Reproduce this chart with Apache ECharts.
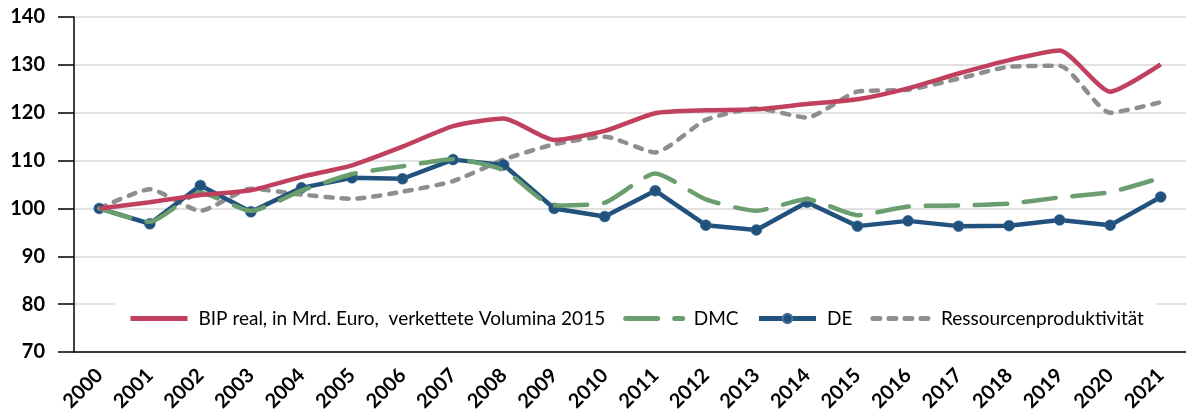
<!DOCTYPE html>
<html>
<head>
<meta charset="utf-8">
<script src="https://cdn.jsdelivr.net/npm/echarts@6/dist/echarts.min.js"></script>
<style>
  html, body { margin: 0; padding: 0; background: #fff; }
  #chart { width: 1186px; height: 417px; }
</style>
</head>
<body>
<div id="chart"></div>
<script>
// Jahre (Kategorien der x-Achse)
const years = ['2000','2001','2002','2003','2004','2005','2006','2007','2008','2009','2010',
               '2011','2012','2013','2014','2015','2016','2017','2018','2019','2020','2021'];

// Indexwerte, 2000 = 100
const bipReal = [100, 101.3, 102.8, 103.8, 106.6, 109.0, 112.9, 117.2, 118.8, 114.3, 116.2,
                 119.9, 120.5, 120.7, 121.8, 122.8, 125.1, 128.2, 131.0, 133.0, 124.4, 130.1];
const dmc     = [100, 97.2, 103.3, 99.5, 103.7, 107.2, 108.8, 110.3, 108.0, 100.6, 101.2,
                 107.3, 101.9, 99.5, 101.9, 98.6, 100.4, 100.6, 101.0, 102.3, 103.4, 106.4];
const de      = [100, 96.8, 104.8, 99.3, 104.3, 106.4, 106.2, 110.2, 109.1, 100.0, 98.3,
                 103.7, 96.5, 95.5, 101.3, 96.3, 97.4, 96.3, 96.4, 97.6, 96.5, 102.4];
const ressProd = [100, 104.0, 99.5, 104.1, 102.9, 102.0, 103.5, 105.7, 110.2, 113.4, 115.0,
                  111.7, 118.5, 120.9, 119.0, 124.4, 124.8, 127.1, 129.6, 129.8, 120.0, 122.2];

// Achsenbereich und Beschriftungen
const yMin = 70, yMax = 140, yStep = 10;

const names = {
  bip: 'BIP real, in Mrd. Euro,  verkettete Volumina 2015',
  dmc: 'DMC',
  de: 'DE',
  rp: 'Ressourcenproduktivität'
};

const colors = { bip: '#C0405E', dmc: '#6A9E6E', de: '#21527E', rp: '#8E8E8E' };
const font = 'Lato, "Open Sans", sans-serif';

// Legendensymbole ohne Punkt: nur die Linie zeigen
const noMarker = { color: 'rgba(0,0,0,0)', borderWidth: 0 };

const chart = echarts.init(document.getElementById('chart'), null, { renderer: 'canvas' });

chart.setOption({
  animation: false,
  backgroundColor: '#ffffff',
  textStyle: { fontFamily: font, color: '#000' },
  grid: { left: 74, top: 17, bottom: 65, right: -3, containLabel: false },
  legend: {
    data: [
      { name: names.bip, itemStyle: noMarker },
      { name: names.dmc, itemStyle: noMarker },
      { name: names.de },
      { name: names.rp, itemStyle: noMarker }
    ],
    left: 115,
    top: 302,
    padding: [7, 13, 7, 13],
    backgroundColor: '#ffffff',
    itemWidth: 57,
    itemHeight: 12,
    itemGap: 18,
    lineStyle: { width: 5 },
    textStyle: { fontFamily: font, fontSize: 19, color: '#000', padding: [0, 0, 0, 6] }
  },
  xAxis: {
    type: 'category',
    data: years,
    boundaryGap: true,
    axisLine: { lineStyle: { color: '#000', width: 1.5 } },
    axisTick: { alignWithLabel: true, length: 15, lineStyle: { color: '#000', width: 1.5 } },
    axisLabel: {
      rotate: 45, margin: 20, interval: 0,
      fontFamily: font, fontSize: 20, fontWeight: 'bold', color: '#000'
    },
    splitLine: { show: false }
  },
  yAxis: {
    type: 'value',
    min: yMin, max: yMax, interval: yStep,
    axisLine: { show: true, lineStyle: { color: '#000', width: 1.5 } },
    axisTick: { show: true, length: 16, lineStyle: { color: '#000', width: 1.5 } },
    axisLabel: { margin: 29, fontFamily: font, fontSize: 20, fontWeight: 'bold', color: '#000' },
    splitLine: { show: true, lineStyle: { color: '#d9d9d9', width: 1.5 } }
  },
  series: [
    {
      name: names.rp, type: 'line', data: ressProd, smooth: 0.2,
      symbol: 'none', z: 2,
      lineStyle: { color: colors.rp, width: 4.5, type: [7, 9], cap: 'round' },
      itemStyle: { color: colors.rp }
    },
    {
      name: names.de, type: 'line', data: de,
      symbol: 'circle', symbolSize: 11, z: 3,
      lineStyle: { color: colors.de, width: 4.5 },
      itemStyle: { color: colors.de, borderColor: '#4a7399', borderWidth: 0.5 }
    },
    {
      name: names.dmc, type: 'line', data: dmc, smooth: 0.2,
      symbol: 'none', z: 4,
      lineStyle: { color: colors.dmc, width: 4.5, type: [32, 17], cap: 'round' },
      itemStyle: { color: colors.dmc }
    },
    {
      name: names.bip, type: 'line', data: bipReal, smooth: 0.2,
      symbol: 'none', z: 5,
      lineStyle: { color: colors.bip, width: 4.5 },
      itemStyle: { color: colors.bip }
    }
  ]
});
</script>
</body>
</html>
